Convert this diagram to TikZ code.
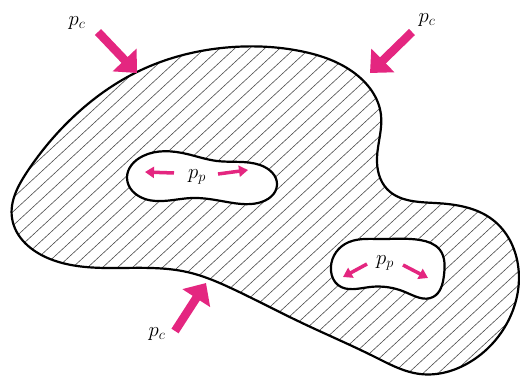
\documentclass[tikz,border=0pt]{standalone}
\usetikzlibrary{arrows.meta,hobby}
\definecolor{mag}{RGB}{228,38,128}
\begin{document}
\begin{tikzpicture}[x=1pt,y=-1pt,
  outline/.style={line width=2.2pt, black},
  holeline/.style={line width=2.2pt, black, fill=white},
  hatch/.style={line width=0.6pt, black!70},
  bigarrow/.style={mag, line width=8.5pt, -{Triangle[width=32pt,length=18pt]}},
  smallarrow/.style={mag, line width=3.5pt, -{Triangle[width=11pt,length=9pt]}},
  lbl/.style={font=\huge, inner sep=0pt}]
\useasboundingbox (0,0) rectangle (520,377);
\def\outer{(12,218) (27,172) (67,123) (137,72) (233,47) (300,51) (353,72) (381,115) (377,158) (387,189) (435,203) (493,220) (518,265) (506,325) (470,362) (420,374) (375,357) (300,322) (235,290) (187,272) (120,268) (50,259)}
% hatching
\begin{scope}
  \clip plot[closed hobby] coordinates {\outer};
  \foreach \k in {-525,-510,...,560}
    \draw[hatch] (\k,390) -- ++(433,-400);
\end{scope}
% holes
\draw[holeline] plot[closed hobby] coordinates {(127,178) (143,156) (187,154) (217,161) (260,165) (277,185) (258,203) (227,202) (192,198) (145,199)};
\draw[holeline] plot[closed hobby] coordinates {(331,271) (345,244) (380,239) (420,240) (440,250) (444,275) (433,297) (405,292) (370,287) (338,285)};
% outline
\draw[outline] plot[closed hobby] coordinates {\outer};
% labels
\node[lbl] (pc1) at (77,23) {$p_c$};
\node[lbl] (pc2) at (427,20) {$p_c$};
\node[lbl] (pc3) at (157,334) {$p_c$};
\node[lbl] (pp1) at (197,177) {$p_p$};
\node[lbl] (pp2) at (385,263) {$p_p$};
% big arrows
\coordinate (a1s) at (98,32);  \coordinate (a1e) at (137,73);
\coordinate (a2s) at (412,32); \coordinate (a2e) at (370,73);
\coordinate (a3s) at (175,331); \coordinate (a3e) at (206,283);
\draw[bigarrow] (a1s) -- (a1e);
\draw[bigarrow] (a2s) -- (a2e);
\draw[bigarrow] (a3s) -- (a3e);
% small arrows
\coordinate (b1s) at (174,173); \coordinate (b1e) at (145,172);
\coordinate (b2s) at (218,174); \coordinate (b2e) at (248,170);
\coordinate (b3s) at (367,264); \coordinate (b3e) at (343,277);
\coordinate (b4s) at (403,265); \coordinate (b4e) at (428,278);
\draw[smallarrow] (b1s) -- (b1e);
\draw[smallarrow] (b2s) -- (b2e);
\draw[smallarrow] (b3s) -- (b3e);
\draw[smallarrow] (b4s) -- (b4e);
\end{tikzpicture}
\end{document}
